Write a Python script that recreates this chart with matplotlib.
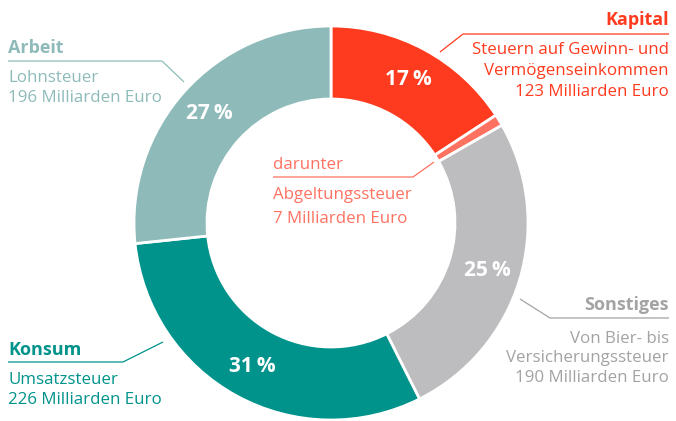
import numpy as np
import matplotlib.pyplot as plt

# data (Milliarden Euro)
categories = ["Kapital", "Abgeltungssteuer", "Sonstiges", "Konsum", "Arbeit"]
kapital_total = 123
abgeltung = 7
values = [kapital_total - abgeltung, abgeltung, 190, 226, 196]
pct_labels = ["17\u2009%", "", "25\u2009%", "31\u2009%", "27\u2009%"]

colors = ["#FF3B1F", "#FF7262", "#BDBDBF", "#00938B", "#8EBBB9"]

W, H = 676, 421
plt.rcParams['font.family'] = ['Open Sans', 'DejaVu Sans']

fig = plt.figure(figsize=(W / 100, H / 100), dpi=100)
ax = fig.add_axes([0, 0, 1, 1])


def fy(y):
    # pixel row (from top) -> data y
    return H - y


cx, cy, R, ring = 331, fy(223), 197, 73
wedges, _ = ax.pie(values, colors=colors, startangle=90, counterclock=False,
                   center=(cx, cy), radius=R,
                   wedgeprops=dict(width=ring, edgecolor='white', linewidth=2))

# percentage labels in the ring
for w, lab in zip(wedges, pct_labels):
    if not lab:
        continue
    mid = np.deg2rad((w.theta1 + w.theta2) / 2)
    r = R - ring / 2 + 3
    ax.text(cx + r * np.cos(mid), cy + r * np.sin(mid), lab, color='white',
            fontsize=15, fontweight='bold', ha='center', va='center')


def callout(title, lines, color, x, ha, y_title, y_rule, y_lines, leader,
            bold=True):
    ax.text(x, fy(y_title), title, color=color, fontsize=13 if bold else 12.2,
            fontweight='bold' if bold else 'normal', ha=ha, va='baseline')
    for t, yy in zip(lines, y_lines):
        ax.text(x, fy(yy), t, color=color, fontsize=12.2, ha=ha, va='baseline')
    xs = [x] + [p[0] for p in leader]
    ys = [fy(y_rule)] + [fy(p[1]) for p in leader]
    ax.plot(xs, ys, color=color, lw=0.9, solid_capstyle='butt')


callout("Arbeit", ["Lohnsteuer", "196 Milliarden Euro"], "#8EBBB9", 8, 'left',
        53, 61, [82, 102], [(162, 61), (184, 82)])
callout("Kapital", ["Steuern auf Gewinn- und", "Vermögenseinkommen",
                    "123 Milliarden Euro"], "#FF3B1F", 669, 'right',
        25, 34, [54, 75, 96], [(463, 34), (440, 52)])
callout("darunter", ["Abgeltungssteuer", "7 Milliarden Euro"], "#FF7262", 273,
        'left', 169, 177, [199, 223], [(413, 177), (434, 162)], bold=False)
callout("Sonstiges", ["Von Bier- bis", "Versicherungssteuer",
                      "190 Milliarden Euro"], "#A3A3A5", 669, 'right',
        310, 318, [343, 362, 382], [(550, 318), (520, 299)])
callout("Konsum", ["Umsatzsteuer", "226 Milliarden Euro"], "#00938B", 8, 'left',
        355, 362, [384, 404], [(123, 362), (163, 342)])

ax.set_xlim(0, W)
ax.set_ylim(0, H)
ax.set_aspect('equal')
ax.axis('off')

fig.savefig("out.png", dpi=100)
